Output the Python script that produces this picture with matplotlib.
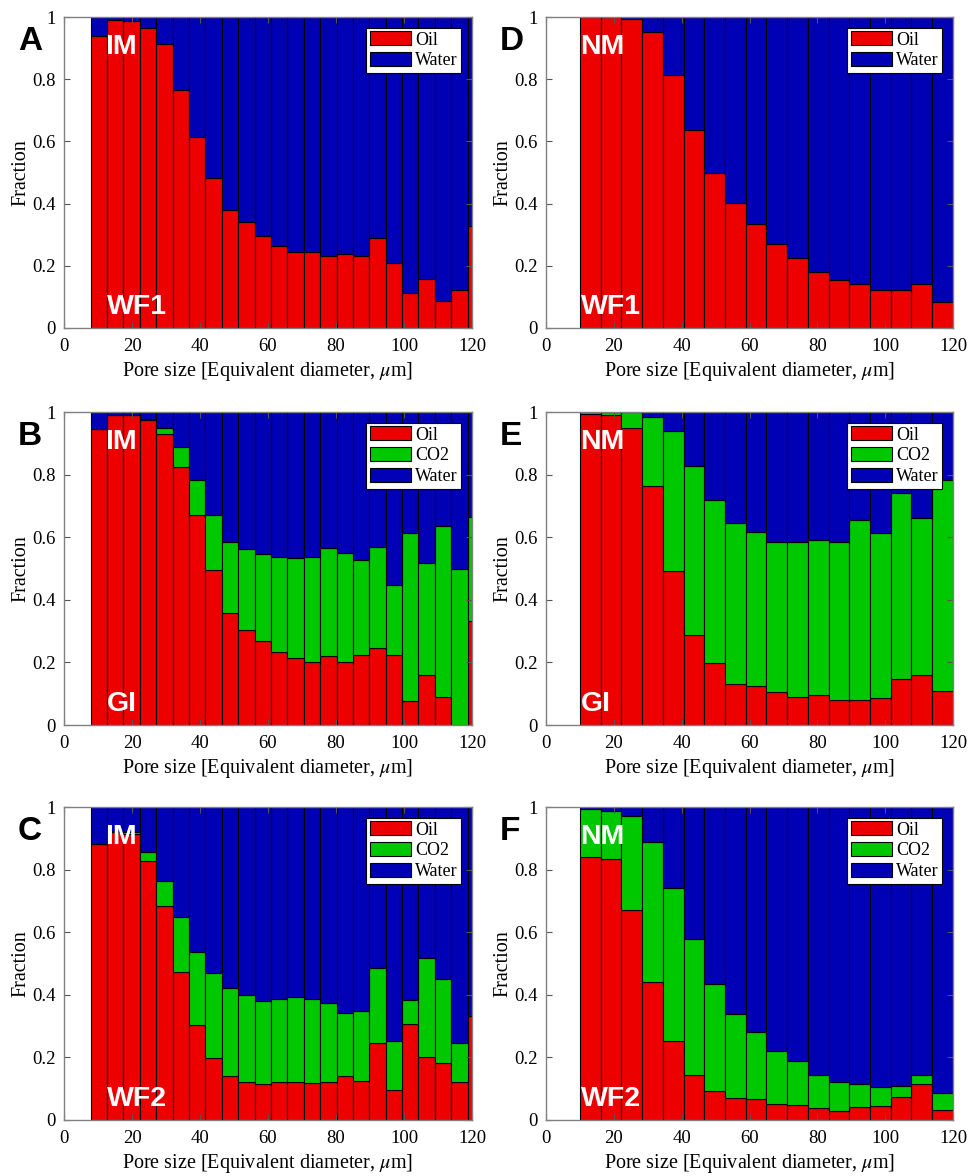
import numpy as np
import matplotlib
matplotlib.use("Agg")
import matplotlib.pyplot as plt
from matplotlib.patches import Patch
from matplotlib.ticker import FuncFormatter

plt.rcParams["mathtext.fontset"] = "stix"

# Pore-size bins: intermediate-wet (IM) and neutral-wet (NM) samples
im_first_edge, im_bin_width, im_nbins = 7.85, 4.82, 24
nm_first_edge, nm_bin_width, nm_nbins = 10.0, 6.11, 18

# IM, first waterflood (WF1)
im_wf1_oil = [0.938, 0.989, 0.986, 0.966, 0.912, 0.764, 0.615, 0.481, 0.380, 0.340,
              0.297, 0.264, 0.243, 0.243, 0.233, 0.237, 0.230, 0.288, 0.209, 0.112,
              0.158, 0.088, 0.122, 0.329]
im_wf1_co2 = [0.0] * 24

# IM, gas injection (GI)
im_gi_oil = [0.947, 0.989, 0.989, 0.973, 0.930, 0.824, 0.671, 0.496, 0.357, 0.305,
             0.268, 0.232, 0.213, 0.202, 0.220, 0.200, 0.224, 0.245, 0.224, 0.076,
             0.160, 0.090, 0.000, 0.332]
im_gi_co2 = [0.000, 0.000, 0.000, 0.005, 0.018, 0.063, 0.113, 0.176, 0.228, 0.258,
             0.279, 0.304, 0.320, 0.334, 0.346, 0.351, 0.304, 0.324, 0.224, 0.538,
             0.357, 0.546, 0.497, 0.332]

# IM, second waterflood (WF2)
im_wf2_oil = [0.882, 0.920, 0.915, 0.828, 0.683, 0.473, 0.302, 0.197, 0.140, 0.121,
              0.115, 0.123, 0.123, 0.118, 0.121, 0.142, 0.126, 0.245, 0.097, 0.307,
              0.200, 0.182, 0.123, 0.331]
im_wf2_co2 = [0.000, 0.003, 0.006, 0.027, 0.082, 0.175, 0.236, 0.274, 0.281, 0.279,
              0.264, 0.262, 0.270, 0.267, 0.252, 0.201, 0.223, 0.241, 0.155, 0.075,
              0.317, 0.268, 0.123, 0.000]

# NM, first waterflood (WF1)
nm_wf1_oil = [1.000, 1.000, 0.995, 0.952, 0.813, 0.638, 0.499, 0.403, 0.335, 0.270,
              0.225, 0.179, 0.155, 0.142, 0.121, 0.123, 0.142, 0.084]
nm_wf1_co2 = [0.0] * 18

# NM, gas injection (GI)
nm_gi_oil = [0.995, 0.992, 0.949, 0.762, 0.493, 0.289, 0.199, 0.130, 0.125, 0.105,
             0.089, 0.097, 0.079, 0.081, 0.086, 0.146, 0.161, 0.108]
nm_gi_co2 = [0.005, 0.008, 0.051, 0.223, 0.445, 0.539, 0.521, 0.516, 0.493, 0.480,
             0.496, 0.493, 0.506, 0.575, 0.529, 0.596, 0.499, 0.674]

# NM, second waterflood (WF2)
nm_wf2_oil = [0.841, 0.833, 0.670, 0.442, 0.251, 0.144, 0.092, 0.070, 0.068, 0.051,
              0.049, 0.038, 0.029, 0.041, 0.045, 0.072, 0.116, 0.033]
nm_wf2_co2 = [0.153, 0.155, 0.301, 0.446, 0.490, 0.434, 0.342, 0.268, 0.213, 0.170,
              0.138, 0.107, 0.091, 0.074, 0.062, 0.037, 0.027, 0.053]

panels = [
    ("A", "IM", "WF1", "im", im_wf1_oil, im_wf1_co2, False),
    ("D", "NM", "WF1", "nm", nm_wf1_oil, nm_wf1_co2, False),
    ("B", "IM", "GI", "im", im_gi_oil, im_gi_co2, True),
    ("E", "NM", "GI", "nm", nm_gi_oil, nm_gi_co2, True),
    ("C", "IM", "WF2", "im", im_wf2_oil, im_wf2_co2, True),
    ("F", "NM", "WF2", "nm", nm_wf2_oil, nm_wf2_co2, True),
]

RED, GREEN, BLUE = "#EC0000", "#00C800", "#0000B4"
SERIF = ["Liberation Serif", "DejaVu Serif"]
SANS = ["Liberation Sans", "DejaVu Sans"]

W, H = 968, 1176
fig = plt.figure(figsize=(W / 100, H / 100), dpi=100)

col_x = [(64, 472), (546, 953)]
row_y = [(17, 328), (412, 725), (807, 1120)]


def frac_fmt(v, _):
    return "%g" % round(v, 2)


for i, (letter, wet, stage, kind, oil, co2, with_co2) in enumerate(panels):
    r, c = divmod(i, 2)
    x0, x1 = col_x[c]
    y0, y1 = row_y[r]
    ax = fig.add_axes([x0 / W, 1 - y1 / H, (x1 - x0) / W, (y1 - y0) / H])

    if kind == "im":
        first, width, n = im_first_edge, im_bin_width, im_nbins
    else:
        first, width, n = nm_first_edge, nm_bin_width, nm_nbins
    left = first + width * np.arange(n)
    oil = np.array(oil)
    co2 = np.array(co2)
    water = np.clip(1.0 - oil - co2, 0, None)

    kw = dict(width=width, align="edge", edgecolor="black", linewidth=0.8)
    ax.bar(left, oil, color=RED, **kw)
    if with_co2:
        ax.bar(left, co2, bottom=oil, color=GREEN, **kw)
    ax.bar(left, water, bottom=oil + co2, color=BLUE, **kw)

    ax.set_xlim(0, 120)
    ax.set_ylim(0, 1)
    ax.set_xticks(np.arange(0, 121, 20))
    ax.set_yticks(np.arange(0, 1.01, 0.2))
    ax.yaxis.set_major_formatter(FuncFormatter(frac_fmt))
    ax.tick_params(direction="in", top=True, right=True, length=4,
                   color="#555555", labelsize=13.5)
    ax.tick_params(axis="x", pad=7)
    ax.tick_params(axis="y", pad=6)
    for lab in ax.get_xticklabels() + ax.get_yticklabels():
        lab.set_fontfamily(SERIF)
    for sp in ax.spines.values():
        sp.set_color("#808080")
        sp.set_linewidth(1.0)

    ax.set_xlabel("Pore size [Equivalent diameter, $\\mu$m]", fontsize=14.5,
                  family=SERIF, labelpad=4)
    ax.set_ylabel("Fraction", fontsize=14.5, family=SERIF, labelpad=1)

    handles = [Patch(facecolor=RED, edgecolor="black", linewidth=0.8)]
    labels = ["Oil"]
    if with_co2:
        handles.append(Patch(facecolor=GREEN, edgecolor="black", linewidth=0.8))
        labels.append("CO2")
    handles.append(Patch(facecolor=BLUE, edgecolor="black", linewidth=0.8))
    labels.append("Water")
    leg = ax.legend(handles, labels, loc="upper right", fancybox=False,
                    framealpha=1, edgecolor="black", borderpad=0.2,
                    handlelength=2.3, handleheight=0.8, handletextpad=0.2,
                    labelspacing=0.2, borderaxespad=0.6,
                    prop={"family": SERIF, "size": 13})
    leg.get_frame().set_linewidth(0.8)

    ax.text(0.10 if kind == "im" else 0.085, 0.945, wet, transform=ax.transAxes,
            color="white", fontsize=20.5, fontweight="bold", family=SANS,
            ha="left", va="top")
    ax.text(0.105 if kind == "im" else 0.085, 0.025, stage, transform=ax.transAxes,
            color="white", fontsize=20.5, fontweight="bold", family=SANS,
            ha="left", va="bottom")

    fig.text((x0 - 46) / W, 1 - (y0 + 33) / H, letter, fontsize=24,
             fontweight="bold", family=SANS, ha="left", va="baseline")

fig.savefig("out.png", dpi=100)
